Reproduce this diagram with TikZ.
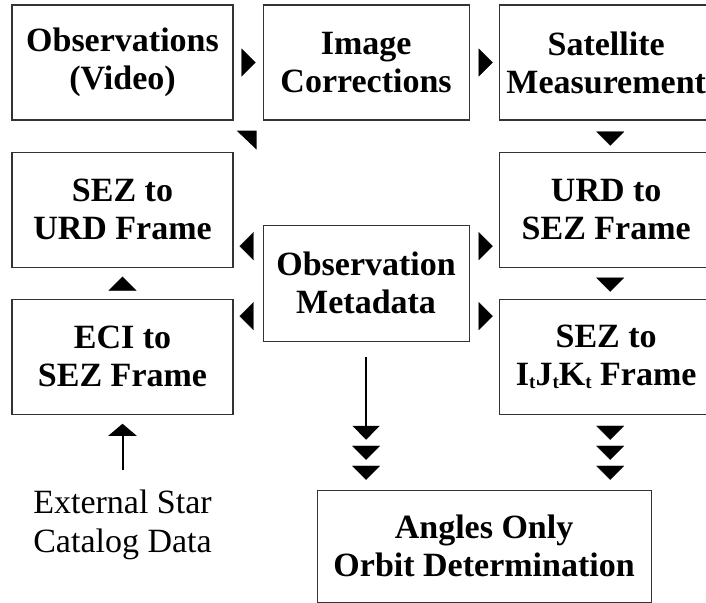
\documentclass[tikz,border=0pt]{standalone}
\usepackage{fontspec}
\setmainfont{Liberation Serif}
\usetikzlibrary{arrows.meta,positioning,calc}
\newcommand{\lowt}{\raisebox{-0.08em}{\fontsize{19}{19}\selectfont t}}

\begin{document}
\begin{tikzpicture}[
  x=1pt, y=-1pt,
  box/.style={rectangle,draw=black!80,line width=1.1pt,inner sep=0pt,
              minimum width=221pt, minimum height=115pt, align=center,
              font=\fontsize{34}{38}\selectfont\bfseries},
  midbox/.style={box, minimum width=206pt},
  rbox/.style={box, minimum width=214pt},
  head/.style={draw=white, line width=0.2pt,
               -{Triangle[length=14pt,width=28pt,color=black]}},
  note/.style={inner sep=0pt, align=center, font=\fontsize{34}{39}\selectfont},
]
  \useasboundingbox (0,0) rectangle (706,602);

  %% top row
  \node[box] (obs) at (122.5,62.5) {Observations\\(Video)};
  \node[midbox,right=29pt of obs] (img) {Image\\Corrections};
  \node[rbox,right=29pt of img] (sat) {Satellite\\Measurement};

  %% left column
  \node[box,below=31pt of obs] (sezurd) {SEZ to\\URD Frame};
  \node[box,below=31pt of sezurd] (eci) {ECI to\\SEZ Frame};
  \node[note,below=75pt of eci] (star) {External Star\\Catalog Data};

  %% right column
  \node[rbox,below=31pt of sat] (urdsez) {URD to\\SEZ Frame};
  \node[rbox,below=31pt of urdsez] (sezijk) {SEZ to\\I\lowt J\lowt K\lowt{} Frame};

  %% metadata and result
  \node[midbox,minimum height=116pt] (meta)
    at ($(img |- sezurd.south)!0.5!(img |- eci.north)$) {Observation\\Metadata};
  \node[box,minimum width=334pt,minimum height=112pt,
        below right=75pt and 83pt of eci.south east] (aod)
    {Angles Only\\Orbit Determination};

  %% heads along the top row
  \draw[head] ($(obs.east)+(8,0)$) -- ++(14,0);
  \draw[head] ($(img.east)+(9,0)$) -- ++(14,0);
  \fill ($(obs.south east)+(3,10)$) -- ++(20,0) -- ++(0,19) -- cycle;

  %% heads down the right column
  \draw[head] ($(sat.south)+(4,12)$) -- ++(0,13);
  \draw[head] ($(urdsez.south)+(4,10)$) -- ++(0,14);

  %% heads out of the metadata
  \draw[head] ($(meta.west)+(-9,-37)$) -- ++(-14,0);
  \draw[head] ($(meta.west)+(-9,33)$) -- ++(-14,0);
  \draw[head] ($(meta.east)+(9,-37)$) -- ++(14,0);
  \draw[head] ($(meta.east)+(9,33)$) -- ++(14,0);

  %% ECI up to SEZ
  \draw[head] ($(eci.north)+(0,-8)$) -- ++(0,-14);

  %% into the orbit determination
  \draw[line width=2pt,-{Triangle[length=14pt,width=27pt]}]
    ($(meta.south)+(0,15)$) -- ($(aod.north -| meta.south)+(0,-50)$);
  \foreach \dy in {30,10}
    \draw[head] ($(aod.north -| meta.south)+(0,-\dy-14)$) -- ++(0,14);
  \foreach \dy in {50,30,10}
    \draw[head] ($(aod.north -| sezijk.south)+(4,-\dy-14)$) -- ++(0,14);

  %% star catalog input
  \draw[line width=2pt,-{Triangle[length=12pt,width=28pt]}]
    ($(star.north)+(0,-20)$) -- ($(eci.south)+(0,9)$);
\end{tikzpicture}
\end{document}
